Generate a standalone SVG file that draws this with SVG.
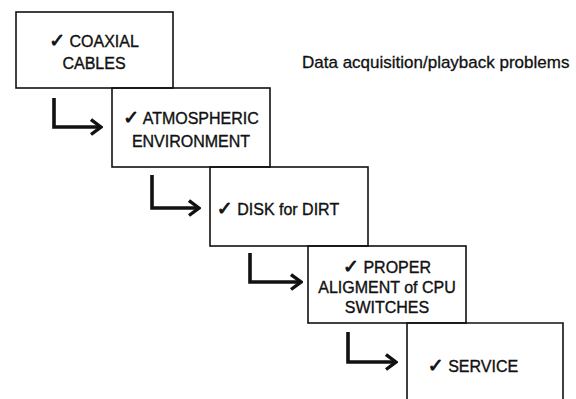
<svg xmlns="http://www.w3.org/2000/svg" width="576" height="399" viewBox="0 0 576 399">
  <defs>
    <style>
      .box { fill: none; stroke: #111; stroke-width: 1.6; }
      .lbl { font-family: "Liberation Sans", Arial, "DejaVu Sans", sans-serif; font-size: 16px; fill: #111; stroke: #111; stroke-width: 0.35; text-anchor: middle; }
      .ck { font-family: "DejaVu Sans", sans-serif; font-size: 19px; stroke-width: 0.9; }
      .title { font-family: "Liberation Sans", Arial, sans-serif; font-size: 17px; fill: #111; stroke: #111; stroke-width: 0.3; }
      .flow { fill: none; stroke: #111; stroke-width: 3.6; stroke-linejoin: miter; }
    </style>
    <marker id="chev" viewBox="0 0 13 18" refX="11" refY="9" markerWidth="13" markerHeight="18" markerUnits="userSpaceOnUse" orient="auto">
      <path d="M1,1.5 L11,9 L1,16.5" fill="none" stroke="#111" stroke-width="3.4"/>
    </marker>
  </defs>
  <rect width="576" height="399" fill="#fff"/>

  <text class="title" x="302" y="68">Data acquisition/playback problems</text>

  <g id="step1">
    <rect class="box" x="16" y="12" width="157" height="76"/>
    <text class="lbl" x="94" y="47"><tspan class="ck">✓</tspan> COAXIAL</text>
    <text class="lbl" x="94" y="69">CABLES</text>
  </g>
  <g id="step2">
    <rect class="box" x="112" y="88" width="158" height="79"/>
    <text class="lbl" x="191" y="124"><tspan class="ck">✓</tspan> ATMOSPHERIC</text>
    <text class="lbl" x="191" y="147">ENVIRONMENT</text>
  </g>
  <g id="step3">
    <rect class="box" x="210" y="167" width="158" height="79"/>
    <text class="lbl" x="278" y="215"><tspan class="ck">✓</tspan> DISK for DIRT</text>
  </g>
  <g id="step4">
    <rect class="box" x="308" y="246" width="158" height="77"/>
    <text class="lbl" x="387" y="273"><tspan class="ck">✓</tspan> PROPER</text>
    <text class="lbl" x="387" y="293">ALIGMENT of CPU</text>
    <text class="lbl" x="387" y="313">SWITCHES</text>
  </g>
  <g id="step5">
    <path class="box" d="M407,399 V323 H563 V399"/>
    <text class="lbl" x="473" y="372"><tspan class="ck">✓</tspan> SERVICE</text>
  </g>

  <g id="connectors">
    <path class="flow" d="M54,98 V127 H101" marker-end="url(#chev)"/>
    <path class="flow" d="M152,175 V208 H199" marker-end="url(#chev)"/>
    <path class="flow" d="M250,253 V282 H301" marker-end="url(#chev)"/>
    <path class="flow" d="M348,332 V362 H396" marker-end="url(#chev)"/>
  </g>
</svg>
